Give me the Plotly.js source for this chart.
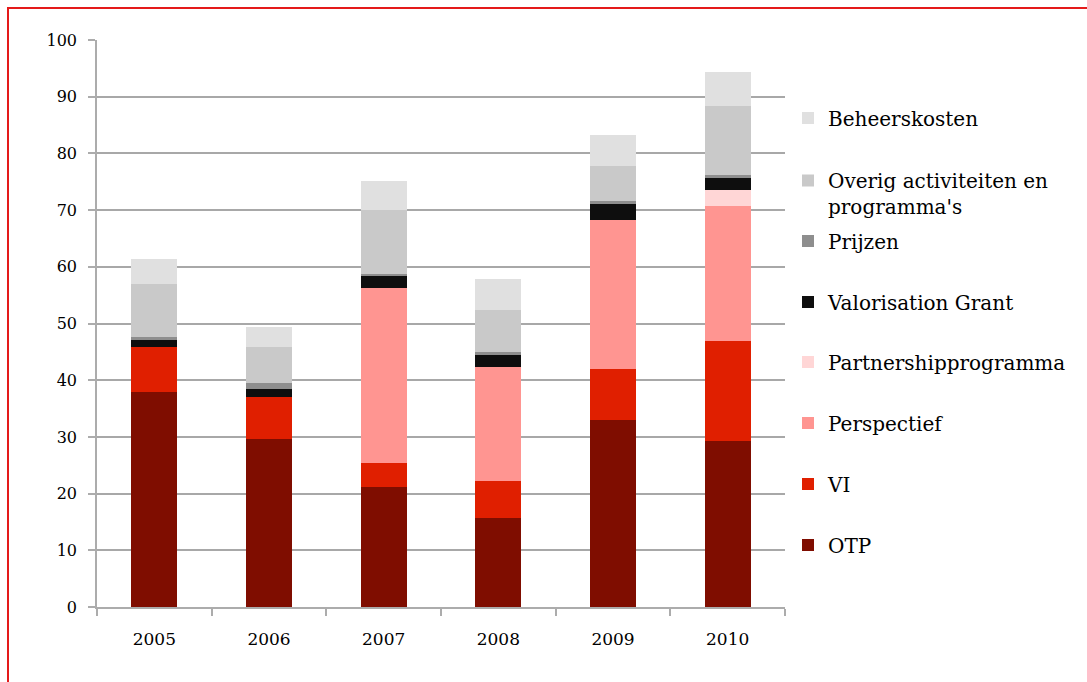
<!DOCTYPE html>
<html>
<head>
<meta charset="utf-8">
<script src="https://cdn.plot.ly/plotly-3.0.1.min.js"></script>
<style>
  html, body { margin: 0; padding: 0; background: #ffffff; }
  #chart { position: absolute; left: 0; top: 0; width: 1087px; height: 682px; }
  #frame { position: absolute; left: 7px; top: 7px; right: -10px; bottom: -10px;
           border-left: 2px solid #e41a1a; border-top: 2px solid #e41a1a; pointer-events: none; }
</style>
</head>
<body>
<div id="chart"></div>
<div id="frame"></div>
<script>
// ---- data ----
const years = ['2005', '2006', '2007', '2008', '2009', '2010'];
const otp          = [38.0, 29.6, 21.2, 15.7, 33.0, 29.3];
const vi           = [7.9, 7.4, 4.2, 6.6, 9.0, 17.6];
const perspectief  = [0, 0, 30.8, 20.1, 26.3, 23.9];
const partnership  = [0, 0, 0, 0, 0, 2.8];
const valorisation = [1.2, 1.4, 2.1, 2.0, 2.8, 2.1];
const prijzen      = [0.5, 1.1, 0.4, 0.5, 0.5, 0.5];
const overig       = [9.4, 6.4, 11.3, 7.5, 6.2, 12.2];
const beheer       = [4.4, 3.4, 5.2, 5.4, 5.4, 6.0];
const yTicks = [0, 10, 20, 30, 40, 50, 60, 70, 80, 90, 100];

const seriesNames = ['OTP', 'VI', 'Perspectief', 'Partnershipprogramma', 'Valorisation Grant',
  'Prijzen', 'Overig activiteiten en<br>programma\'s', 'Beheerskosten'];
const seriesValues = [otp, vi, perspectief, partnership, valorisation, prijzen, overig, beheer];
const seriesColors = ['#7f0d00', '#e01f00', '#ff9591', '#ffd6d6', '#0e0e0e', '#8e8e8e', '#c9c9c9', '#e0e0e0'];
const legendIds = ['legend8', 'legend7', 'legend6', 'legend5', 'legend4', 'legend3', 'legend2', 'legend'];
// legend vertical centres in pixels
const legendPixY = {legend: 118, legend2: 193.5, legend3: 241, legend4: 302, legend5: 362,
  legend6: 423, legend7: 484, legend8: 545};

const M = {l: 97, r: 302, t: 40, b: 75};
const plotH = 682 - M.t - M.b;
const plotW = 1087 - M.l - M.r;
const font = 'DejaVu Serif, Georgia, serif';

const traces = seriesNames.map((n, i) => ({
  type: 'bar',
  name: n,
  x: years,
  y: seriesValues[i],
  marker: {color: seriesColors[i], line: {width: 0}},
  legend: legendIds[i],
  showlegend: true,
  hoverinfo: 'x+y+name'
}));

const layout = {
  width: 1087, height: 682,
  margin: M,
  paper_bgcolor: '#ffffff', plot_bgcolor: '#ffffff',
  barmode: 'stack',
  bargap: 0.6,
  font: {family: font, color: '#000000', size: 16},
  xaxis: {
    type: 'category',
    range: [-0.5, 5.5],
    showline: true, linecolor: '#acacac', linewidth: 1.5,
    ticks: 'outside', tickson: 'boundaries', ticklen: 7, tickcolor: '#acacac', tickwidth: 1.5,
    showgrid: false, zeroline: false,
    ticklabelstandoff: 16,
    tickfont: {family: font, size: 17, color: '#000'}
  },
  yaxis: {
    range: [0, 100],
    tickvals: yTicks,
    ticktext: yTicks.map(String),
    showline: true, linecolor: '#acacac', linewidth: 1.5,
    ticks: 'outside', ticklen: 7, tickcolor: '#acacac', tickwidth: 1.5,
    showgrid: true, gridcolor: '#a8a8a8', gridwidth: 1.5,
    zeroline: false,
    ticklabelstandoff: 8,
    tickfont: {family: font, size: 16, color: '#000'}
  }
};

Object.keys(legendPixY).forEach(id => {
  layout[id] = {
    x: (788 - M.l) / plotW,
    xanchor: 'left',
    y: (682 - M.b - legendPixY[id]) / plotH,
    yanchor: 'middle',
    bgcolor: 'rgba(0,0,0,0)',
    borderwidth: 0,
    valign: 'top',
    itemclick: false, itemdoubleclick: false,
    font: {family: font, size: 20, color: '#000'}
  };
});

Plotly.newPlot('chart', traces, layout, {displayModeBar: false, responsive: false});
</script>
</body>
</html>
